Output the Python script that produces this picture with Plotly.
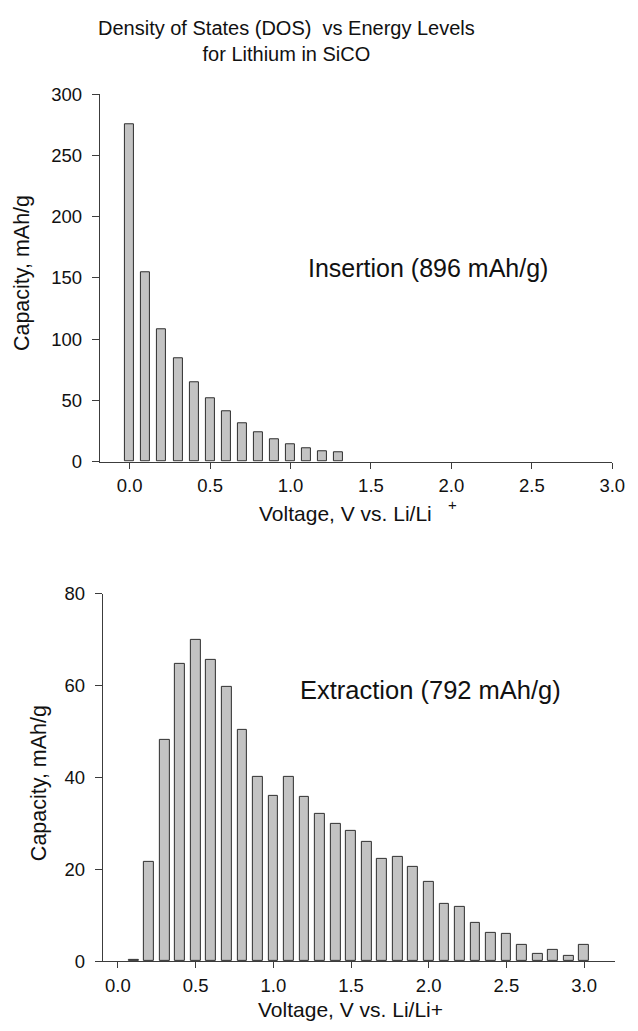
import plotly.graph_objects as go

W, H = 638, 1031

# ---- data ----
ins_voltage = [0.0, 0.1, 0.2, 0.3, 0.4, 0.5, 0.6, 0.7, 0.8, 0.9, 1.0, 1.1, 1.2, 1.3]
ins_capacity = [275.5, 155, 107.8, 84.7, 64.7, 51.4, 41.5, 31.4, 24.2, 18.4, 14.1, 10.9, 8.8, 8.0]

ext_voltage = [0.1, 0.2, 0.3, 0.4, 0.5, 0.6, 0.7, 0.8, 0.9, 1.0, 1.1, 1.2, 1.3, 1.4, 1.5,
               1.6, 1.7, 1.8, 1.9, 2.0, 2.1, 2.2, 2.3, 2.4, 2.5, 2.6, 2.7, 2.8, 2.9, 3.0]
ext_capacity = [0.3, 21.6, 48.1, 64.8, 70.0, 65.6, 59.8, 50.3, 40.2, 36.0, 40.2, 35.7, 32.2, 30.0, 28.4,
                26.0, 22.2, 22.7, 20.5, 17.3, 12.5, 11.9, 8.3, 6.2, 5.9, 3.6, 1.6, 2.5, 1.1, 3.6]

x_ticks = [0.0, 0.5, 1.0, 1.5, 2.0, 2.5, 3.0]
x_tick_labels = ["0.0", "0.5", "1.0", "1.5", "2.0", "2.5", "3.0"]
ins_y_ticks = [0, 50, 100, 150, 200, 250, 300]
ext_y_ticks = [0, 20, 40, 60, 80]

title_text = "Density of States (DOS)  vs Energy Levels<br>for Lithium in SiCO"
y_title = "Capacity, mAh/g"
ins_label = "Insertion (896 mAh/g)"
ext_label = "Extraction (792 mAh/g)"

FONT = "Liberation Sans, Arial, Helvetica, sans-serif"
AX = "#3c3c3c"
BAR_FILL = "#c3c3c3"
BAR_LINE = "#2e2e2e"


def px(x):
    return x / W


def py(y):
    return 1 - y / H


fig = go.Figure()
fig.add_trace(go.Bar(x=ins_voltage, y=ins_capacity, width=0.056,
                     marker=dict(color=BAR_FILL, line=dict(color=BAR_LINE, width=1)),
                     xaxis="x", yaxis="y", showlegend=False))
fig.add_trace(go.Bar(x=ext_voltage, y=ext_capacity, width=0.063,
                     marker=dict(color=BAR_FILL, line=dict(color=BAR_LINE, width=1)),
                     xaxis="x2", yaxis="y2", showlegend=False))

base = dict(showline=True, linecolor=AX, linewidth=1.2, ticks="outside",
            tickcolor=AX, tickwidth=1.2, showgrid=False, zeroline=False,
            tickfont=dict(family=FONT, size=18.5, color="#111"))
x_common = dict(base, ticklen=6, ticklabelstandoff=1)
y_common = dict(base, ticklen=7, ticklabelstandoff=6)

fig.update_layout(
    width=W, height=H,
    margin=dict(l=0, r=0, t=0, b=0),
    paper_bgcolor="white", plot_bgcolor="white",
    bargap=0,
    font=dict(family=FONT, color="#111"),
    xaxis=dict(domain=[px(102), px(625)], range=[-0.185, 3.0], anchor="y",
               tickvals=x_ticks, ticktext=x_tick_labels, **x_common),
    yaxis=dict(domain=[py(460), py(85)], range=[0, 300], anchor="x",
               tickvals=ins_y_ticks, **y_common),
    xaxis2=dict(domain=[px(105), px(628)], range=[-0.097, 3.2], anchor="y2",
                tickvals=x_ticks, ticktext=x_tick_labels, **x_common),
    yaxis2=dict(domain=[py(970), py(595)], range=[0, 80], anchor="x2",
                tickvals=ext_y_ticks, **y_common),
)

annos = [
    dict(text=title_text, x=px(292), y=py(31), size=20),
    dict(text=ins_label, x=px(437), y=py(262), size=25),
    dict(text=ext_label, x=px(439), y=py(693), size=25.5),
    dict(text="Voltage, V vs. Li/Li", x=px(353), y=py(513), size=21),
    dict(text="+", x=px(462), y=py(504), size=15),
    dict(text="Voltage, V vs. Li/Li+", x=px(358), y=py(1019), size=21),
    dict(text=y_title, x=px(22), y=py(268), size=21.5, angle=-90),
    dict(text=y_title, x=px(40), y=py(788), size=21.5, angle=-90),
]
for a in annos:
    fig.add_annotation(xref="paper", yref="paper", showarrow=False,
                       xanchor="center", yanchor="middle",
                       x=a["x"], y=a["y"], text=a["text"],
                       textangle=a.get("angle", 0),
                       font=dict(family=FONT, color="#111", size=a["size"]))

fig.write_html(
    "out.html",
    config={"displayModeBar": False},
    post_script=(
        "document.body.style.margin='0px';"
        "document.body.style.overflow='hidden';"
        "document.documentElement.style.overflow='hidden';"
    ),
)
